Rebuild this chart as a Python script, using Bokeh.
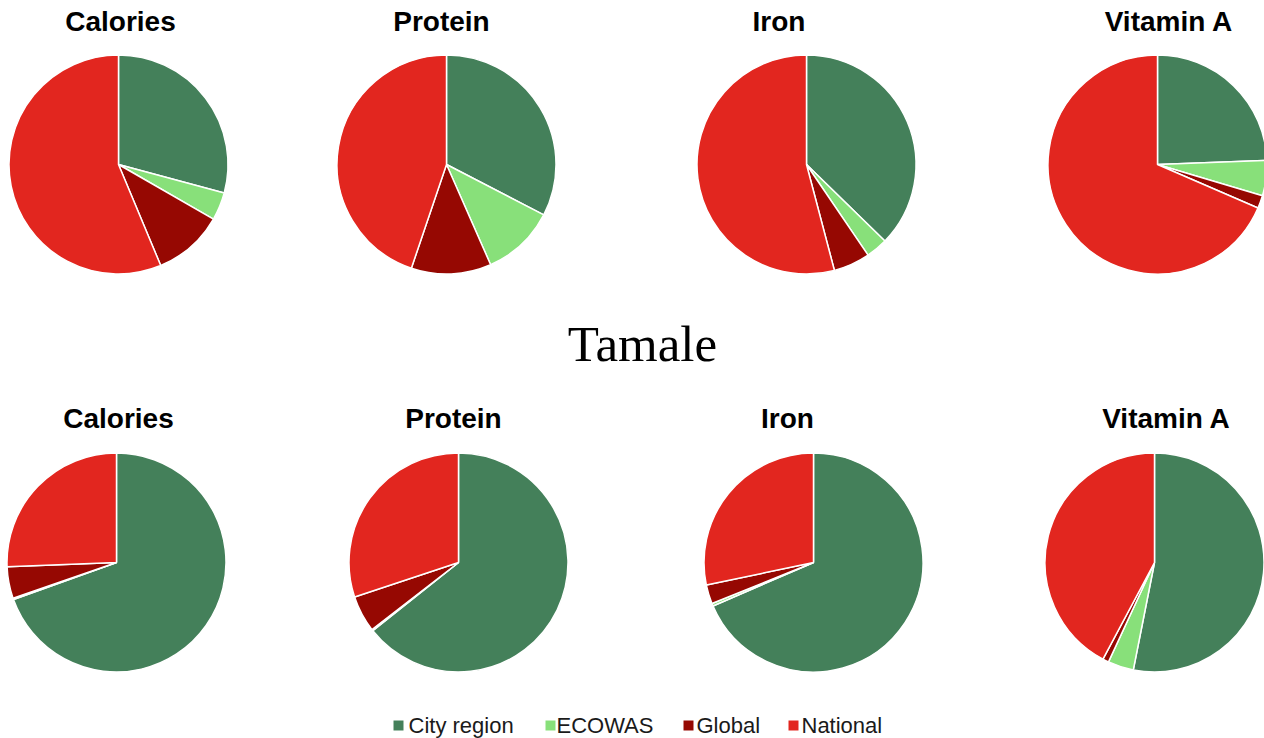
import math
from bokeh.plotting import figure
from bokeh.models import Range1d, ColumnDataSource
from bokeh.core.properties import value
from bokeh.embed import file_html
from bokeh.resources import INLINE

# ---- data (percent shares, clockwise from 12 o'clock) ----
categories = ["City region", "ECOWAS", "Global", "National"]
colors = ["#44805A", "#88E07A", "#960802", "#E2261F"]
nutrients = ["Calories", "Protein", "Iron", "Vitamin A"]

# top row (city not labelled in the image)
top_city_region = [29.2, 32.6, 37.3, 24.4]
top_ecowas = [4.1, 10.8, 3.2, 5.2]
top_global = [10.4, 11.8, 5.4, 1.9]
top_national = [56.3, 44.8, 54.1, 68.5]

# bottom row: Tamale
tamale_city_region = [69.5, 64.3, 68.5, 53.1]
tamale_ecowas = [0.2, 0.2, 0.4, 3.8]
tamale_global = [4.7, 5.4, 2.8, 0.9]
tamale_national = [25.6, 30.1, 28.3, 42.2]

section_title = "Tamale"

# ---- layout (screen pixels of the page) ----
W, H = 1264, 738
top_centers_x = [118, 446, 806, 1157]
bot_centers_x = [116, 458, 813, 1154]
top_cy, bot_cy = 164, 562
R = 109.5
top_title_x = [120, 441, 778.5, 1168.5]
bot_title_x = [118, 453, 787, 1166]
top_title_base, bot_title_base = 20.5, 417.5

p = figure(width=W, height=H, output_backend="svg", toolbar_location=None,
           x_range=Range1d(0, W), y_range=Range1d(0, H), min_border=0)
p.axis.visible = False
p.grid.visible = False
p.outline_line_color = None
p.background_fill_color = "white"
p.border_fill_color = "white"


def Y(sy):
    return H - sy


def draw_pie(cx, cy, shares):
    total = sum(shares)
    xs, ys, starts, ends, cols = [], [], [], [], []
    cum = 0.0
    for s, c in zip(shares, colors):
        a0 = math.pi / 2 - 2 * math.pi * cum / total
        cum += s
        a1 = math.pi / 2 - 2 * math.pi * cum / total
        xs.append(cx); ys.append(Y(cy)); starts.append(a0); ends.append(a1); cols.append(c)
    src = ColumnDataSource(dict(x=xs, y=ys, s=starts, e=ends, c=cols))
    p.wedge(x="x", y="y", radius=R, radius_units="screen", start_angle="s", end_angle="e",
            direction="clock", fill_color="c", line_color="white", line_width=1.5, source=src)


rows = [
    (top_centers_x, top_cy, [top_city_region, top_ecowas, top_global, top_national]),
    (bot_centers_x, bot_cy, [tamale_city_region, tamale_ecowas, tamale_global, tamale_national]),
]
for cxs, cy, series in rows:
    for i, cx in enumerate(cxs):
        draw_pie(cx, cy, [series[k][i] for k in range(4)])

# pie titles
for xs, base in [(top_title_x, top_title_base), (bot_title_x, bot_title_base)]:
    p.text(x=xs, y=[Y(base)] * 4, text=nutrients, text_align="center",
           text_baseline="alphabetic", text_font=value("Liberation Sans"),
           text_font_style="bold", text_font_size="28px", text_color="black")

# section title
p.text(x=[642], y=[Y(343)], text=[section_title], text_align="center",
       text_baseline="alphabetic", text_font=value("Liberation Serif"),
       text_font_size="51px", text_color="black")

# legend
leg_sq_x = [398, 550, 688, 793]
leg_tx_x = [408, 556, 696, 801]
leg_base = 724.5
p.scatter(x=leg_sq_x, y=[Y(725)] * 4, marker="square", size=10,
          fill_color=colors, line_color=None)
p.text(x=leg_tx_x, y=[Y(leg_base)] * 4, text=categories, text_align="left",
       text_baseline="alphabetic", text_font=value("Liberation Sans"),
       text_font_size="22px", text_color="#1a1a1a")

open("out.html", "w").write(file_html(p, INLINE))
